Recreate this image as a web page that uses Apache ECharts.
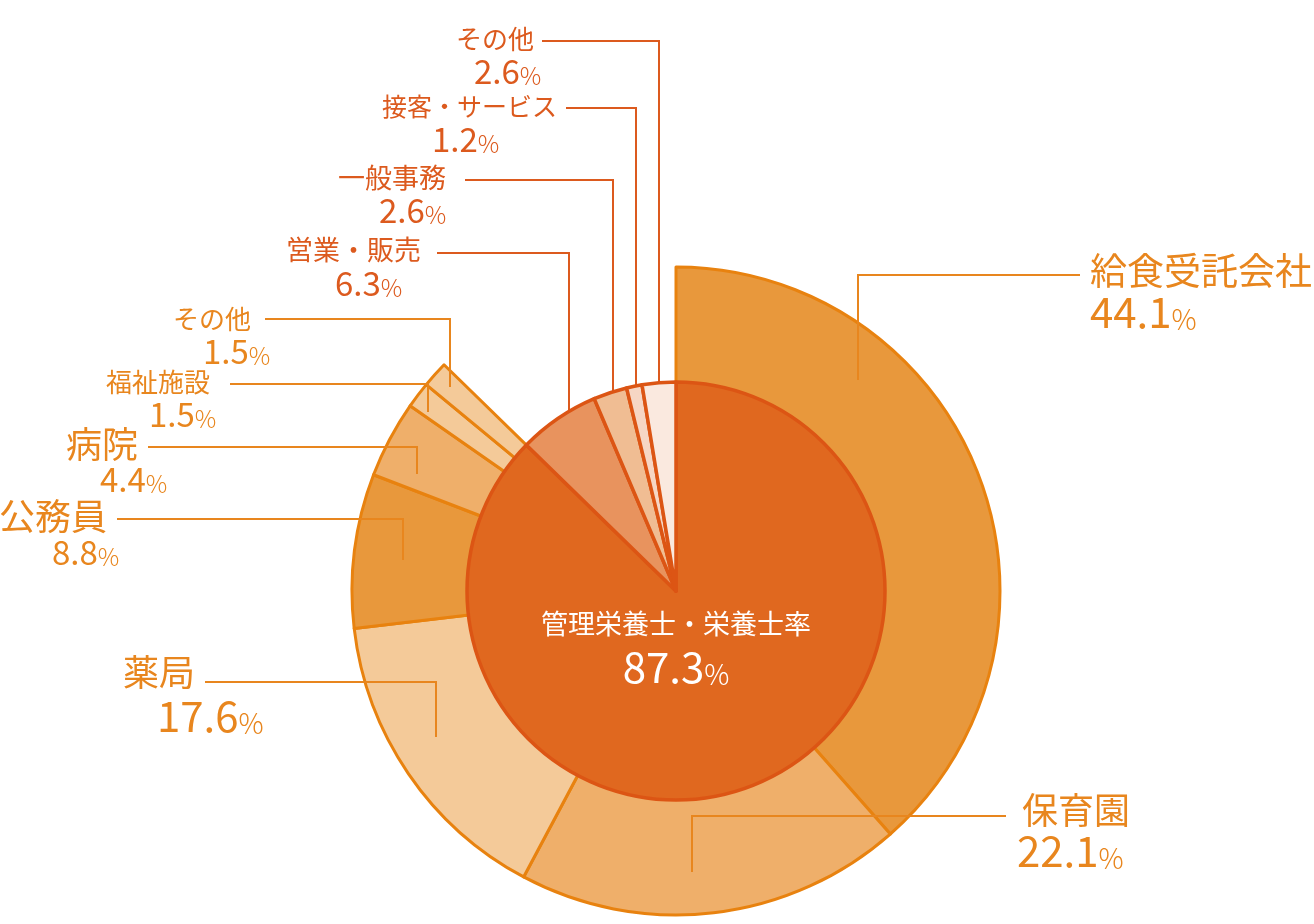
<!DOCTYPE html>
<html>
<head>
<meta charset="utf-8">
<script src="https://cdn.jsdelivr.net/npm/echarts@6/dist/echarts.min.js"></script>
<style>
html,body{margin:0;padding:0;background:#ffffff;}
#chart{width:1314px;height:924px;}
</style>
</head>
<body>
<div id="chart"></div>
<script>
// ---------------- data ----------------
const innerNames  = ['管理栄養士・栄養士率', '営業・販売', '一般事務', '接客・サービス', 'その他'];
const innerValues = [87.3, 6.3, 2.6, 1.2, 2.6];
// breakdown of the 87.3% group (shares within the group, sum = 100)
const outerNames  = ['給食受託会社', '保育園', '薬局', '公務員', '病院', '福祉施設', 'その他'];
const outerValues = [44.1, 22.1, 17.6, 8.8, 4.4, 1.5, 1.5];

// ---------------- styles ----------------
const FONT = '"Noto Sans CJK JP", "Noto Sans", sans-serif';
const innerColors = ['#E0681F', '#E8935E', '#F0BD93', '#F6D6C4', '#FAE9DF'];
const outerColors = ['#E8983C', '#EFAF6A', '#F4CA99', '#E8983C', '#EFAF6A', '#F4CA99', '#F4CA99'];
const outerText = '#E8861E';
const innerText = '#DC5A1E';

// label layout (annotation placement): left, top, name pad, value pad,
// name size, name line height, value size, percent size, leader line points
const outerLabelLayout = [
  {x:1090, y:251, np:0,  vp:0,  ns:37, nl:40, vs:42, ps:28, line:[[858,380],[858,275],[1080,275]]},
  {x:1017, y:791, np:5,  vp:0,  ns:36, nl:39, vs:42, ps:28, line:[[692,872],[692,816],[1006,816]]},
  {x:123,  y:650, np:0,  vp:34, ns:36, nl:45, vs:42, ps:28, line:[[436,737],[436,682],[205,682]]},
  {x:-1,   y:496, np:0,  vp:53, ns:36, nl:40, vs:33, ps:24, line:[[403,560],[403,519],[117,519]]},
  {x:66,   y:425, np:0,  vp:34, ns:36, nl:38, vs:33, ps:24, line:[[417,474],[417,447],[148,447]]},
  {x:106,  y:366, np:0,  vp:43, ns:26, nl:32, vs:33, ps:24, line:[[428,412],[428,384],[230,384]]},
  {x:173,  y:303, np:0,  vp:30, ns:26, nl:32, vs:33, ps:24, line:[[450,387],[450,319],[265,319]]}
];
const innerLabelLayout = [
  {x:676,  y:601, center:true, ns:27, nl:45, vs:42, ps:28},
  {x:286,  y:232, np:0,  vp:49, ns:27, nl:35, vs:33, ps:24, line:[[569,433],[569,253],[437,253]]},
  {x:338,  y:161, np:0,  vp:41, ns:27, nl:33, vs:33, ps:24, line:[[613,412],[613,180],[465,180]]},
  {x:382,  y:90,  np:0,  vp:50, ns:25, nl:33, vs:33, ps:24, line:[[636,403],[636,108],[566,108]]},
  {x:456,  y:23,  np:0,  vp:18, ns:26, nl:32, vs:33, ps:24, line:[[659,403],[659,41],[542,41]]}
];

function makeLabel(name, value, L, color) {
  return {
    show: true,
    color: color,
    fontFamily: FONT,
    align: L.center ? 'center' : 'left',
    formatter: '{n|' + name + '}\n{v|' + value.toFixed(1) + '}{p|%}',
    rich: {
      n: {fontFamily: FONT, fontSize: L.ns, lineHeight: L.nl, color: color, verticalAlign: 'middle',
          padding: [0, 0, 0, L.np || 0]},
      v: {fontFamily: FONT, fontSize: L.vs, lineHeight: L.vs, color: color, verticalAlign: 'bottom',
          padding: [0, 0, 0, L.vp || 0]},
      p: {fontFamily: FONT, fontSize: L.ps, lineHeight: L.ps, color: color, verticalAlign: 'bottom', fontWeight: 300}
    }
  };
}

// outer ring: group shares scaled into the 87.3% sweep + empty remainder
const groupShare = innerValues[0];
const restItem = {
  name: '_rest',
  value: 100 - groupShare,
  itemStyle: {color: 'rgba(0,0,0,0)', borderWidth: 0},
  label: {show: false},
  labelLine: {show: false}
};
const outerFill = outerNames.map((n, i) => ({
  name: n,
  value: outerValues[i] * groupShare / 100,
  itemStyle: {color: outerColors[i]},
  label: {show: false},
  labelLine: {show: false}
}));
outerFill.push(restItem);

// transparent twin of the outer ring that carries labels + leader lines on top
const outerLabels = outerNames.map((n, i) => ({
  name: n,
  value: outerValues[i] * groupShare / 100,
  itemStyle: {color: 'rgba(0,0,0,0)', borderWidth: 0},
  label: makeLabel(n, outerValues[i], outerLabelLayout[i], outerText),
  labelLine: {show: true, lineStyle: {color: outerText, width: 2}}
}));
outerLabels.push(restItem);

const innerData = innerNames.map((n, i) => ({
  name: n,
  value: innerValues[i],
  itemStyle: {color: innerColors[i]},
  label: makeLabel(n, innerValues[i], innerLabelLayout[i], i === 0 ? '#FFFFFF' : innerText),
  labelLine: {show: i !== 0, lineStyle: {color: innerText, width: 2}}
}));

function layoutFor(list) {
  return function (params) {
    const L = list[params.dataIndex];
    if (!L) return {};
    const out = {x: L.x, y: L.y, align: L.center ? 'center' : 'left', verticalAlign: 'top'};
    if (L.line) out.labelLinePoints = L.line;
    return out;
  };
}

const common = {
  type: 'pie',
  center: [676, 591],
  startAngle: 90,
  clockwise: true,
  avoidLabelOverlap: false,
  silent: true,
  emphasis: {disabled: true},
  label: {position: 'outside'},
  labelLine: {show: true, length: 10, length2: 10, smooth: false}
};

const chart = echarts.init(document.getElementById('chart'), null, {renderer: 'canvas'});
chart.setOption({
  animation: false,
  backgroundColor: '#ffffff',
  series: [
    Object.assign({}, common, {
      name: 'outer',
      radius: [200, 324],
      z: 1,
      itemStyle: {borderColor: '#E8820F', borderWidth: 3},
      data: outerFill
    }),
    Object.assign({}, common, {
      name: 'inner',
      radius: [0, 209],
      z: 2,
      itemStyle: {borderColor: '#DC5514', borderWidth: 3.5},
      labelLayout: layoutFor(innerLabelLayout),
      data: innerData
    }),
    Object.assign({}, common, {
      name: 'outerLabels',
      radius: [200, 324],
      z: 3,
      itemStyle: {borderWidth: 0},
      labelLayout: layoutFor(outerLabelLayout),
      data: outerLabels
    })
  ]
});
</script>
</body>
</html>
